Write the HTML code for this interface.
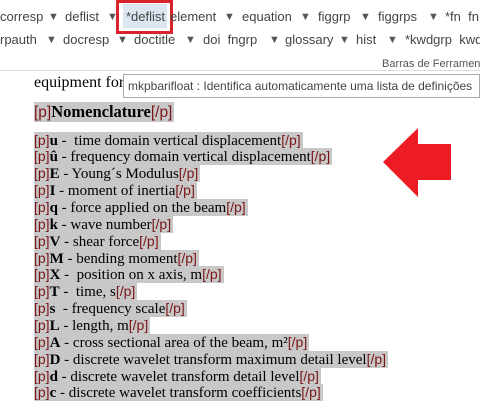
<!DOCTYPE html>
<html><head><meta charset="utf-8"><style>
body{margin:0;width:480px;height:412px;overflow:hidden;background:#fff;position:relative;font-family:"Liberation Sans",sans-serif}
.t{position:absolute;font-size:13px;color:#444;white-space:nowrap;line-height:16px}
.a{position:absolute;font-size:11px;color:#555;line-height:16px}
.doc{position:absolute;left:34px;font-family:"Liberation Serif",serif;font-size:15px;color:#000;white-space:nowrap}
.r{height:16.87px;line-height:16.87px}
.l{display:inline-block;background:#c8c8c8;height:16.87px;line-height:16.87px;padding-right:2px;vertical-align:top}
.p{font-family:"Liberation Sans",sans-serif;color:#7a1515;font-size:14px}
</style></head><body>
<div style="position:absolute;left:123px;top:4px;width:44px;height:24px;background:#dce6f0"></div>
<div style="position:absolute;left:116px;top:0;width:51px;height:28px;border:3px solid #d9232a"></div>
<div class="t" style="left:0;top:9px">corresp</div><div class="a" style="left:48px;top:9px">▼</div>
<div class="t" style="left:65px;top:9px">deflist</div><div class="a" style="left:107px;top:9px">▼</div>
<div class="t" style="left:126px;top:9px">*deflist</div>
<div class="t" style="left:170px;top:9px">element</div><div class="a" style="left:224px;top:9px">▼</div>
<div class="t" style="left:242px;top:9px">equation</div><div class="a" style="left:300px;top:9px">▼</div>
<div class="t" style="left:318px;top:9px">figgrp</div><div class="a" style="left:360px;top:9px">▼</div>
<div class="t" style="left:378px;top:9px">figgrps</div><div class="a" style="left:428px;top:9px">▼</div>
<div class="t" style="left:445px;top:9px">*fn&nbsp; fn</div>
<div class="t" style="left:0;top:32px">rpauth</div><div class="a" style="left:46px;top:32px">▼</div>
<div class="t" style="left:63px;top:32px">docresp</div><div class="a" style="left:117px;top:32px">▼</div>
<div class="t" style="left:134px;top:32px">doctitle</div><div class="a" style="left:185px;top:32px">▼</div>
<div class="t" style="left:203px;top:32px">doi&nbsp; fngrp</div><div class="a" style="left:269px;top:32px">▼</div>
<div class="t" style="left:285px;top:32px">glossary</div><div class="a" style="left:339px;top:32px">▼</div>
<div class="t" style="left:356px;top:32px">hist</div><div class="a" style="left:387px;top:32px">▼</div>
<div class="t" style="left:405px;top:32px">*kwdgrp&nbsp; kwd</div>
<div class="t" style="left:382px;top:56px;font-size:11px;color:#555">Barras de Ferramen</div>
<div style="position:absolute;left:0;top:70px;width:480px;height:1px;background:#ddd"></div>
<div class="doc" style="top:74px;line-height:18px;font-size:16px">equipment for</div>
<div style="position:absolute;left:123px;top:74px;width:357px;height:24px;border:1px solid #aaa;background:#fff;font-size:12px;color:#444;line-height:22px;padding-left:4px;box-sizing:border-box;white-space:nowrap;overflow:hidden">mkpbarifloat : Identifica automaticamente uma lista de definições</div>
<div class="doc" style="top:102px;font-size:16.5px"><span class="l" style="height:20px;line-height:20px"><span class="p" style="font-size:15.5px">[p]</span><b>Nomenclature</b><span class="p" style="font-size:15.5px">[/p]</span></span></div>
<div class="doc" style="top:131.5px">
<div class="r"><span class="l"><span class="p">[p]</span><b>u</b> -&nbsp; time domain vertical displacement<span class="p">[/p]</span></span></div>
<div class="r"><span class="l"><span class="p">[p]</span><b>û</b> - frequency domain vertical displacement<span class="p">[/p]</span></span></div>
<div class="r"><span class="l"><span class="p">[p]</span><b>E</b> - Young´s Modulus<span class="p">[/p]</span></span></div>
<div class="r"><span class="l"><span class="p">[p]</span><b>I</b> - moment of inertia<span class="p">[/p]</span></span></div>
<div class="r"><span class="l"><span class="p">[p]</span><b>q</b> - force applied on the beam<span class="p">[/p]</span></span></div>
<div class="r"><span class="l"><span class="p">[p]</span><b>k</b> - wave number<span class="p">[/p]</span></span></div>
<div class="r"><span class="l"><span class="p">[p]</span><b>V</b> - shear force<span class="p">[/p]</span></span></div>
<div class="r"><span class="l"><span class="p">[p]</span><b>M</b> - bending moment<span class="p">[/p]</span></span></div>
<div class="r"><span class="l"><span class="p">[p]</span><b>X</b> -&nbsp; position on x axis, m<span class="p">[/p]</span></span></div>
<div class="r"><span class="l"><span class="p">[p]</span><b>T</b> -&nbsp; time, s<span class="p">[/p]</span></span></div>
<div class="r"><span class="l"><span class="p">[p]</span><b>s</b>&nbsp; - frequency scale<span class="p">[/p]</span></span></div>
<div class="r"><span class="l"><span class="p">[p]</span><b>L</b> - length, m<span class="p">[/p]</span></span></div>
<div class="r"><span class="l"><span class="p">[p]</span><b>A</b> - cross sectional area of the beam, m²<span class="p">[/p]</span></span></div>
<div class="r"><span class="l"><span class="p">[p]</span><b>D</b> - discrete wavelet transform maximum detail level<span class="p">[/p]</span></span></div>
<div class="r"><span class="l"><span class="p">[p]</span><b>d</b> - discrete wavelet transform detail level<span class="p">[/p]</span></span></div>
<div class="r"><span class="l"><span class="p">[p]</span><b>c</b> - discrete wavelet transform coefficients<span class="p">[/p]</span></span></div>
</div>
<svg style="position:absolute;left:0;top:0" width="480" height="412"><polygon points="383,162 418,128 418,144 451,144 451,180 418,180 418,197" fill="#ed1c24"/></svg>
</body></html>
